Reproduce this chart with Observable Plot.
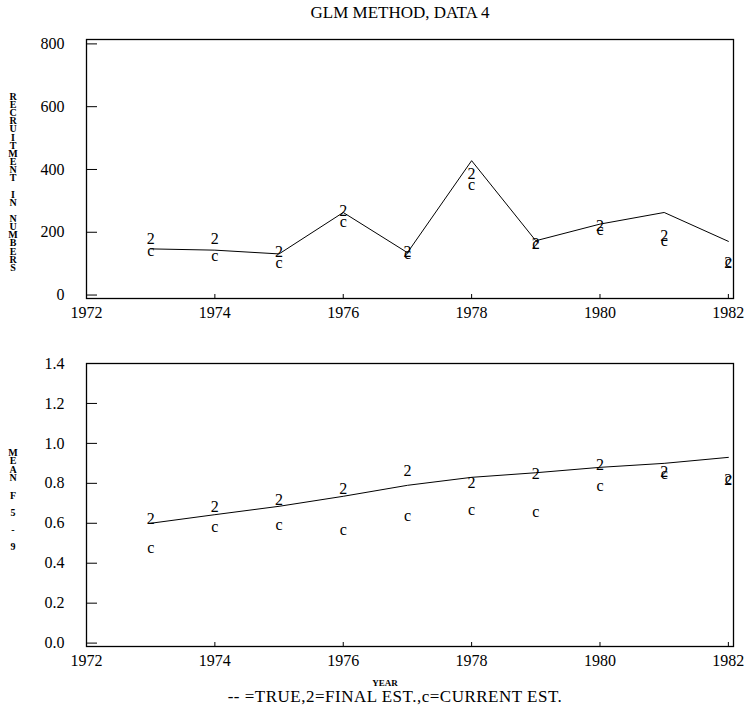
<!DOCTYPE html>
<html><head><meta charset="utf-8">
<script src="https://cdn.jsdelivr.net/npm/d3@7"></script>
<script src="https://cdn.jsdelivr.net/npm/@observablehq/plot@0.6"></script>
<style>
body{margin:0;background:#fff;overflow:hidden;}
#wrap{position:relative;width:751px;height:711px;font-family:"Liberation Serif",serif;color:#000;background:#fff;}
.abs{position:absolute;}
#title{left:0;width:800px;top:3px;text-align:center;font-size:17px;}
.stack{position:absolute;width:26px;text-align:center;font-size:10px;font-weight:bold;}
#yearlab{left:0;width:770px;top:678px;text-align:center;font-size:9px;font-weight:bold;}
#legend{left:0;width:790px;top:687px;text-align:center;font-size:17px;letter-spacing:0.5px;}
</style></head><body>
<div id="wrap">
  <div id="title" class="abs">GLM METHOD, DATA 4</div>
  <div id="p1" class="abs" style="left:0;top:25px"></div>
  <div id="p2" class="abs" style="left:0;top:330px"></div>
  <div id="ylab1" class="stack"></div>
  <div id="ylab2" class="stack"></div>
  <div id="yearlab" class="abs">YEAR</div>
  <div id="legend" class="abs">-- =TRUE,2=FINAL EST.,c=CURRENT EST.</div>
</div>
<script>
const years = [1973, 1974, 1975, 1976, 1977, 1978, 1979, 1980, 1981, 1982];
const recTrue = [147, 143, 131, 263, 135, 428, 173, 226, 263, 171];
const recFinal = [178, 178, 139, 269, 136, 386, 163, 221, 189, 104];
const recCurrent = [136, 122, 99, 231, 128, 348, 160, 205, 168, 103];
const fTrue = [0.60, 0.643, 0.685, 0.735, 0.79, 0.83, 0.853, 0.88, 0.90, 0.93];
const fFinal = [0.62, 0.68, 0.715, 0.77, 0.86, 0.80, 0.845, 0.89, 0.855, 0.815];
const fCurrent = [0.47, 0.575, 0.585, 0.56, 0.63, 0.66, 0.65, 0.78, 0.84, 0.815];
const xTicks = [1972, 1974, 1976, 1978, 1980, 1982];
const recTicks = [0, 200, 400, 600, 800];
const fTicks = [0, 0.2, 0.4, 0.6, 0.8, 1.0, 1.2, 1.4];
const recLabel = "RECRUITMENT IN NUMBERS";
const fLabel = "MEAN F 5 - 9";

const FONT = "Liberation Serif";
const rec = years.map((y, i) => ({year: y, t: recTrue[i], f: recFinal[i], c: recCurrent[i]}));
const fm = years.map((y, i) => ({year: y, t: fTrue[i], f: fFinal[i], c: fCurrent[i]}));

function panel(data, yDomain, yTicks, yFmt, height, mt, mb) {
  return Plot.plot({
    width: 751, height, marginLeft: 86, marginRight: 18, marginTop: mt, marginBottom: mb,
    x: {domain: [1972, 1982.08]},
    y: {domain: yDomain},
    style: {fontFamily: FONT, fontSize: "16px", color: "black", background: "white"},
    marks: [
      Plot.frame({stroke: "black", strokeWidth: 1.3}),
      Plot.axisY(yTicks, {tickSize: -11, tickFormat: () => "", label: null}),
      Plot.axisY(yTicks, {tickSize: 0, tickPadding: 22, tickFormat: yFmt, fontSize: 16, fontFamily: FONT, label: null}),
      Plot.axisX(xTicks, {tickSize: -4, tickFormat: () => "", label: null}),
      Plot.axisX(xTicks, {tickSize: 0, tickPadding: 8, tickFormat: d => String(d), fontSize: 16, fontFamily: FONT, label: null}),
      Plot.line(data, {x: "year", y: "t", stroke: "black", strokeWidth: 1}),
      Plot.text(data, {x: "year", y: "c", text: () => "c", fontSize: 16, fontFamily: FONT, dy: -1}),
      Plot.text(data, {x: "year", y: "f", text: () => "2", fontSize: 16, fontFamily: FONT})
    ]
  });
}

document.getElementById("p1").appendChild(panel(rec, [-11, 814], recTicks, d => String(d), 305, 14, 32));
document.getElementById("p2").appendChild(panel(fm, [-0.017, 1.4], fTicks, d3.format(".1f"), 340, 33, 24));

function stack(id, str, top, step) {
  const el = document.getElementById(id);
  el.style.left = "0px";
  el.style.top = (top - step / 2) + "px";
  for (const ch of str) {
    const d = document.createElement("div");
    d.style.height = step + "px";
    d.style.lineHeight = step + "px";
    d.textContent = ch === " " ? "\u00a0" : ch;
    el.appendChild(d);
  }
}
stack("ylab1", recLabel, 97, 8.15);
stack("ylab2", fLabel, 453, 8.6);
</script>
</body></html>
